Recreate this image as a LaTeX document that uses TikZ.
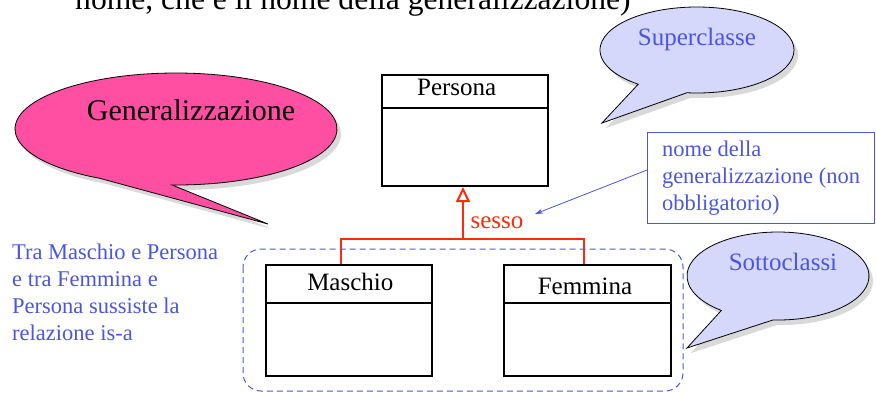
\documentclass[tikz,border=0pt]{standalone}
\usepackage{fontspec}
\setmainfont{Liberation Serif}
\usetikzlibrary{arrows.meta,calc,shadows}

\definecolor{rosa}{HTML}{FF4FA3}
\definecolor{lilla}{HTML}{D5D7FB}
\definecolor{blu}{HTML}{4A56DE}
\definecolor{rosso}{HTML}{FF2A0A}

\begin{document}
\begin{tikzpicture}[x=1pt,y=1pt,>=Latex,
  every node/.style={inner sep=0pt},
  classbox/.style={draw,line width=2pt,minimum height=111pt},
  classname/.style={anchor=base,font=\fontsize{25}{30}\selectfont},
  genline/.style={rosso,line width=2pt},
  callout/.style={draw=black,line width=.8pt,
    drop shadow={shadow xshift=4pt,shadow yshift=-5pt,opacity=.3}},
  bubbletext/.style={anchor=base,font=\fontsize{25}{30}\selectfont},
  bluetext/.style={text=blu,font=\fontsize{22.5}{26.7}\selectfont,align=left}]
\clip (0,0) rectangle (876,-392);

% titolo tagliato in alto
\node[anchor=base west,font=\fontsize{31.6}{36}\selectfont] (titolo) at (75,-9)
  {nome, che è il nome della generalizzazione)};

% fumetti
\coordinate (gen) at (176,-129);
\coordinate (gentip) at (268,-224);
\path[callout,fill=rosa] ($(gen)+(268.6:161 and 56)$)
  arc[start angle=268.6,end angle=601.8,x radius=161,y radius=56] -- (gentip) -- cycle;
\node[bubbletext,font=\fontsize{30}{36}\selectfont] (gentext) at (191,-120) {Generalizzazione};

\coordinate (sup) at (697,-50);
\coordinate (suptip) at (602,-123);
\path[callout,fill=lilla] ($(sup)+(264:97 and 43)$)
  arc[start angle=264,end angle=592.7,x radius=97,y radius=43] -- (suptip) -- cycle;
\node[bubbletext,text=blu] (suptext) at (697,-45) {Superclasse};

\coordinate (sot) at (778,-276);
\coordinate (sottip) at (687,-348);
\path[callout,fill=lilla] ($(sot)+(266.9:91 and 44)$)
  arc[start angle=266.9,end angle=591.5,x radius=91,y radius=44] -- (sottip) -- cycle;
\node[bubbletext,text=blu] (sottext) at (783,-270) {Sottoclassi};

% classi
\node[classbox,minimum width=166pt] (persona) at (465,-130.5) {};
\draw[line width=2pt] ($(persona.north west)+(0,-34)$) -- ($(persona.north east)+(0,-34)$);
\node[classname] (personaname) at (456.7,-95) {Persona};

\node[classbox,minimum width=166pt] (maschio) at (349,-320.5) {};
\draw[line width=2pt] ($(maschio.north west)+(0,-39)$) -- ($(maschio.north east)+(0,-39)$);
\node[classname] (maschioname) at (350.3,-290) {Maschio};

\node[classbox,minimum width=167pt] (femmina) at (587.5,-320.5) {};
\draw[line width=2pt] ($(femmina.north west)+(0,-39)$) -- ($(femmina.north east)+(0,-39)$);
\node[classname] (femminaname) at (585,-294) {Femmina};

% generalizzazione
\coordinate (bar) at (463,-239);
\draw[genline] ([xshift=-8pt]maschio.north) |- (bar) -| ([xshift=-3.5pt]femmina.north);
\draw[genline,-{Triangle[open,length=15pt,width=14pt]}] (bar) -- ([xshift=-2pt]persona.south);
\node[classname,text=rosso] (sesso) at (497,-228) {sesso};

% nota
\node[bluetext,draw=blu,line width=1pt,anchor=north west,minimum width=227pt,
  minimum height=91pt,inner xsep=11pt] (nota) at (647,-132)
  {nome della\\generalizzazione (non\\obbligatorio)};
\coordinate (sessotip) at (535,-214);
\draw[blu,line width=.8pt,-{Stealth[length=8pt,width=5pt]}]
  ([yshift=-38pt]nota.north west) -- (sessotip);

\node[bluetext,anchor=base west] (isa) at (12,-340)
  {Tra Maschio e Persona\\e tra Femmina e\\Persona sussiste la\\relazione is-a};

% gruppo sottoclassi
\draw[blu,line width=1pt,dash pattern=on 6pt off 4pt,rounded corners=18pt]
  (243,-249) rectangle (683,-391);
\end{tikzpicture}
\end{document}
